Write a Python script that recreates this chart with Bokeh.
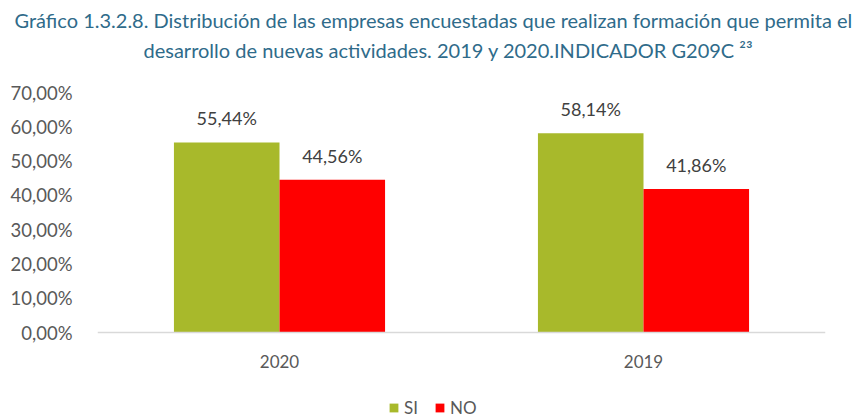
from bokeh.plotting import figure
from bokeh.models import (ColumnDataSource, LabelSet, Title, Legend, LegendItem,
                          CustomJSTickFormatter, FixedTicker, Range1d)
from bokeh.transform import dodge
from bokeh.core.properties import value
from bokeh.embed import file_html
from bokeh.resources import INLINE

years = ["2020", "2019"]
si = [55.44, 58.14]
no = [44.56, 41.86]
y_ticks = [0, 10, 20, 30, 40, 50, 60, 70]

FONT = "Lato"
src = ColumnDataSource(dict(
    year=years, si=si, no=no,
    si_lbl=[f"{v:.2f}".replace(".", ",") + "%" for v in si],
    no_lbl=[f"{v:.2f}".replace(".", ",") + "%" for v in no],
))

# frame spans 92..418 px; 0 % sits at 332 px (240 px for 70 %)
p = figure(width=860, height=418, x_range=years, y_range=Range1d(-25.08, 70), title=None,
           output_backend="svg", toolbar_location=None,
           min_border_left=97, min_border_right=35, min_border_top=92, min_border_bottom=0)
p.outline_line_color = None
p.xgrid.grid_line_color = None
p.ygrid.grid_line_color = None

bw = 0.29
r_si = p.vbar(x=dodge("year", -bw / 2, range=p.x_range), top="si", width=bw,
              source=src, color="#A8B92B", line_color=None)
r_no = p.vbar(x=dodge("year", bw / 2, range=p.x_range), top="no", width=bw,
              source=src, color="#FF0000", line_color=None)

for col, off in (("si_lbl", -bw / 2), ("no_lbl", bw / 2)):
    top = "si" if col == "si_lbl" else "no"
    p.add_layout(LabelSet(x=dodge("year", off, range=p.x_range), y=top, text=col, source=src,
                          text_align="center", text_baseline="bottom", y_offset=13,
                          text_font=value(FONT), text_font_size="18px", text_color="#404040"))

p.yaxis.ticker = FixedTicker(ticks=y_ticks)
p.yaxis.formatter = CustomJSTickFormatter(code="return tick.toFixed(2).replace('.', ',') + '%';")
p.yaxis.axis_line_color = None
p.yaxis.major_tick_line_color = None
p.yaxis.minor_tick_line_color = None
p.yaxis.major_label_text_font = FONT
p.yaxis.major_label_text_font_size = "18.5px"
p.yaxis.major_label_text_color = "#595959"
p.yaxis.major_label_standoff = 19

p.xaxis.fixed_location = 0
p.xaxis.axis_line_color = "#D9D9D9"
p.xaxis.axis_line_width = 1.5
p.xaxis.major_tick_line_color = None
p.xaxis.minor_tick_line_color = None
p.xaxis.major_label_text_font = FONT
p.xaxis.major_label_text_font_size = "17px"
p.xaxis.major_label_text_color = "#595959"
p.xaxis.major_label_standoff = 16

title1 = "Gráfico 1.3.2.8. Distribución de las empresas encuestadas que realizan formación que permita el"
title2 = "desarrollo de nuevas actividades. 2019 y 2020.INDICADOR G209C ²³"
tcol = "#2F6B8A"
# blank spacer row between the frame and the two title lines
p.add_layout(Title(text=" ", align="left", text_font=FONT, text_font_size="19.5px",
                   standoff=4), "above")
for t, off in ((title2, 46), (title1, -83)):
    p.add_layout(Title(text=t, align="left", offset=off, text_font=FONT, text_font_size="20px",
                       text_font_style="normal", text_color=tcol, standoff=4), "above")

legend = Legend(items=[LegendItem(label="SI", renderers=[r_si]),
                       LegendItem(label="NO", renderers=[r_no])],
                orientation="horizontal", location=(291, 0),
                label_text_font=FONT, label_text_font_size="17px", label_text_color="#595959",
                glyph_width=11, glyph_height=11, spacing=10, label_standoff=5,
                border_line_color=None, background_fill_alpha=0, padding=0, margin=0)
p.add_layout(legend)

open("out.html", "w").write(file_html(p, INLINE))
